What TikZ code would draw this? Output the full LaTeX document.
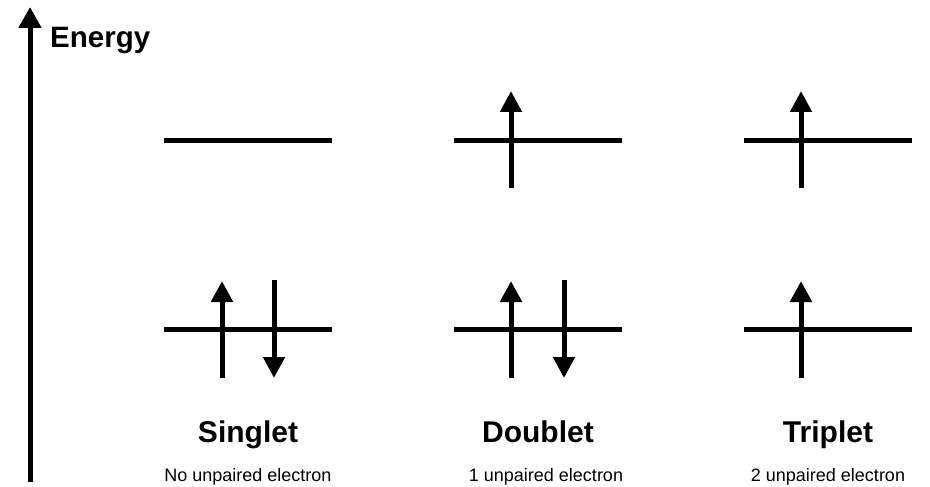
\documentclass[tikz,border=0pt]{standalone}
\usepackage{fontspec}
\setmainfont{Liberation Sans}
\usetikzlibrary{positioning}
\usetikzlibrary{arrows.meta}

\begin{document}
\begin{tikzpicture}[x=1pt, y=-1pt,
		lvl/.style  = {line width=5pt},
		spin/.style = {-{Triangle[length=21pt, width=21pt]}, line width=5pt},
		ax/.style   = {-{Triangle[length=21pt, width=22pt]}, line width=5pt},
		ttl/.style  = {anchor=base, inner sep=0, font=\bfseries\fontsize{30}{36}\selectfont},
		sub/.style  = {anchor=base, inner sep=0, font=\fontsize{18}{22}\selectfont}
		]
		\useasboundingbox (0,0) rectangle (930,487);
		
		%Axis
		\coordinate	(e0)	at	(30, 482);
		\coordinate	(e1)	at	(30, 7);
		\draw[ax]	(e0)	--	(e1);
		\node[anchor=base west, inner sep=0, font=\bfseries\fontsize{29.5}{35}\selectfont]	(energy)	at	(50, 48)	{Energy};
		
		%Levels
		\coordinate	(sUl)	at	(164, 140);	\coordinate	(sUr)	at	(332, 140);
		\coordinate	(sLl)	at	(164, 329);	\coordinate	(sLr)	at	(332, 329);
		\coordinate	(dUl)	at	(454, 140);	\coordinate	(dUr)	at	(622, 140);
		\coordinate	(dLl)	at	(454, 329);	\coordinate	(dLr)	at	(622, 329);
		\coordinate	(tUl)	at	(744, 140);	\coordinate	(tUr)	at	(912, 140);
		\coordinate	(tLl)	at	(744, 329);	\coordinate	(tLr)	at	(912, 329);
		\draw[lvl]	(sUl)	--	(sUr);
		\draw[lvl]	(sLl)	--	(sLr);
		\draw[lvl]	(dUl)	--	(dUr);
		\draw[lvl]	(dLl)	--	(dLr);
		\draw[lvl]	(tUl)	--	(tUr);
		\draw[lvl]	(tLl)	--	(tLr);
		
		%Spins
		\coordinate	(s1a)	at	(222, 378);	\coordinate	(s1b)	at	(222, 281);
		\coordinate	(s2a)	at	(274, 280);	\coordinate	(s2b)	at	(274, 378);
		\coordinate	(d1a)	at	(511, 188);	\coordinate	(d1b)	at	(511, 91);
		\coordinate	(d2a)	at	(511, 378);	\coordinate	(d2b)	at	(511, 281);
		\coordinate	(d3a)	at	(564, 280);	\coordinate	(d3b)	at	(564, 378);
		\coordinate	(t1a)	at	(801, 188);	\coordinate	(t1b)	at	(801, 91);
		\coordinate	(t2a)	at	(801, 378);	\coordinate	(t2b)	at	(801, 281);
		\draw[spin]	(s1a)	--	(s1b);
		\draw[spin]	(s2a)	--	(s2b);
		\draw[spin]	(d1a)	--	(d1b);
		\draw[spin]	(d2a)	--	(d2b);
		\draw[spin]	(d3a)	--	(d3b);
		\draw[spin]	(t1a)	--	(t1b);
		\draw[spin]	(t2a)	--	(t2b);
		
		%Labels
		\node[ttl]	(singlet)	at	(248, 442)	{Singlet};
		\node[ttl]	(doublet)	at	(538, 442)	{Doublet};
		\node[ttl]	(triplet)	at	(828, 442)	{Triplet};
		\node[sub]	(sNote)	at	(248, 481)	{No unpaired electron};
		\node[sub]	(dNote)	at	(546, 481)	{1 unpaired electron};
		\node[sub]	(tNote)	at	(828, 481)	{2 unpaired electron};
	\end{tikzpicture}
\end{document}
